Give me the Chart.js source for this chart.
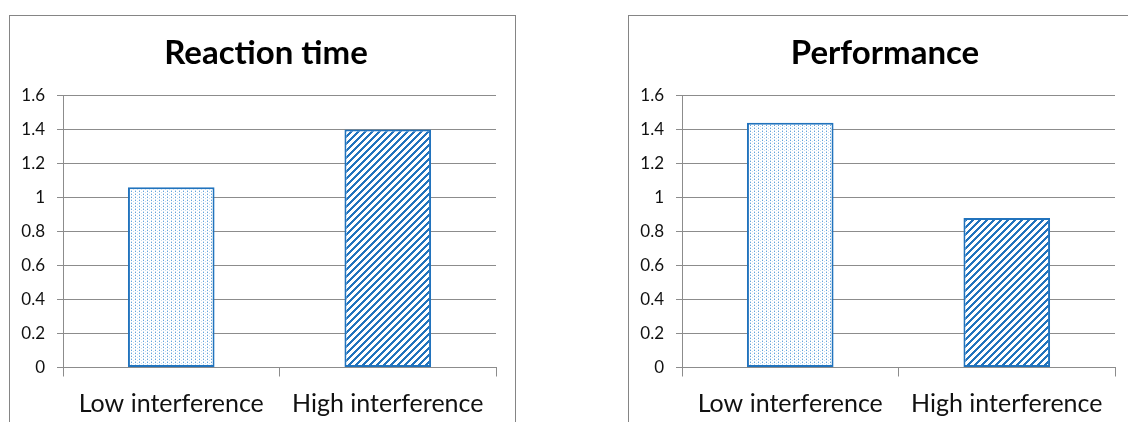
<!DOCTYPE html>
<html>
<head>
<meta charset="utf-8">
<script src="https://cdn.jsdelivr.net/npm/chart.js@4.4.1/dist/chart.umd.min.js"></script>
<style>
  html, body { margin: 0; padding: 0; background: #fff; width: 1128px; height: 422px; overflow: hidden; }
  .box { position: absolute; top: 15px; width: 505px; height: 440px; border: 1px solid #858585; background: #fff; }
  #boxA { left: 9px; }
  #boxB { left: 628px; }
  canvas { position: absolute; left: 0; top: 0; }
</style>
</head>
<body>
<div class="box" id="boxA"><canvas id="chartA" width="505" height="420"></canvas></div>
<div class="box" id="boxB"><canvas id="chartB" width="505" height="420"></canvas></div>
<script>
// Categories and values for the two panels
const categories = ['Low interference', 'High interference'];
const reactionTime = [1.06, 1.40];
const performance = [1.44, 0.88];
const yTickLabels = ['0', '0.2', '0.4', '0.6', '0.8', '1', '1.2', '1.4', '1.6'];
const yMin = 0;
const yMax = 1.6;
const yStep = 0.2;

const blue = '#2173BD';
const gridGray = '#8c8c8c';

// Fine dotted fill for the first bar
function dotPattern() {
  const c = document.createElement('canvas');
  c.width = 4; c.height = 3;
  const g = c.getContext('2d');
  g.fillStyle = '#ffffff';
  g.fillRect(0, 0, 4, 3);
  g.fillStyle = 'rgba(60,140,210,0.8)';
  g.fillRect(1, 1, 1, 1);
  g.fillStyle = 'rgba(60,140,210,0.3)';
  g.fillRect(1, 0, 1, 1);
  g.fillRect(3, 2, 1, 1);
  return g.createPattern(c, 'repeat');
}

// Diagonal "/" hatching for the second bar
function hatchPattern() {
  const n = 7;
  const c = document.createElement('canvas');
  c.width = n; c.height = n;
  const g = c.getContext('2d');
  g.fillStyle = '#ffffff';
  g.fillRect(0, 0, n, n);
  g.fillStyle = blue;
  for (let x = 0; x < n; x++) {
    for (let y = 0; y < n; y++) {
      if ((x + y) % n < 3) g.fillRect(x, y, 1, 1);
    }
  }
  return g.createPattern(c, 'repeat');
}

function makeChart(id, title, values) {
  const ctx = document.getElementById(id).getContext('2d');
  return new Chart(ctx, {
    type: 'bar',
    data: {
      labels: categories,
      datasets: [{
        data: values,
        backgroundColor: [dotPattern(), hatchPattern()],
        borderColor: blue,
        borderWidth: 2,
        borderSkipped: false,
        categoryPercentage: 1.0,
        barPercentage: 0.4
      }]
    },
    options: {
      responsive: false,
      animation: false,
      events: [],
      layout: { padding: { left: 7, right: 0, top: 0, bottom: 5.5 } },
      plugins: {
        legend: { display: false },
        tooltip: { enabled: false },
        title: {
          display: true,
          text: title,
          color: '#000',
          font: { family: 'Lato', size: 33, weight: 'bold' },
          padding: { top: 18, bottom: 22 }
        }
      },
      scales: {
        x: {
          offset: true,
          grid: {
            offset: true,
            drawOnChartArea: false,
            drawTicks: true,
            tickLength: 9,
            color: gridGray
          },
          border: { display: true, color: gridGray, width: 1 },
          ticks: {
            color: '#111',
            font: { family: 'Lato', size: 25 },
            padding: 12,
            maxRotation: 0
          }
        },
        y: {
          min: yMin,
          max: yMax,
          afterFit(scale) { scale.width = 46; },
          grid: {
            color: gridGray,
            drawTicks: true,
            tickLength: 6
          },
          border: { display: true, color: gridGray, width: 1 },
          ticks: {
            stepSize: yStep,
            color: '#111',
            font: { family: 'Lato', size: 17 },
            padding: 12,
            callback: (value, index) => yTickLabels[index]
          }
        },
        // empty right-hand margin column beside the plot
        yRight: {
          position: 'right',
          min: yMin,
          max: yMax,
          afterFit(scale) { scale.width = 19; },
          grid: { display: false },
          border: { display: false },
          ticks: { display: false }
        }
      }
    }
  });
}

makeChart('chartA', 'Reaction time', reactionTime);
makeChart('chartB', 'Performance', performance);
</script>
</body>
</html>
